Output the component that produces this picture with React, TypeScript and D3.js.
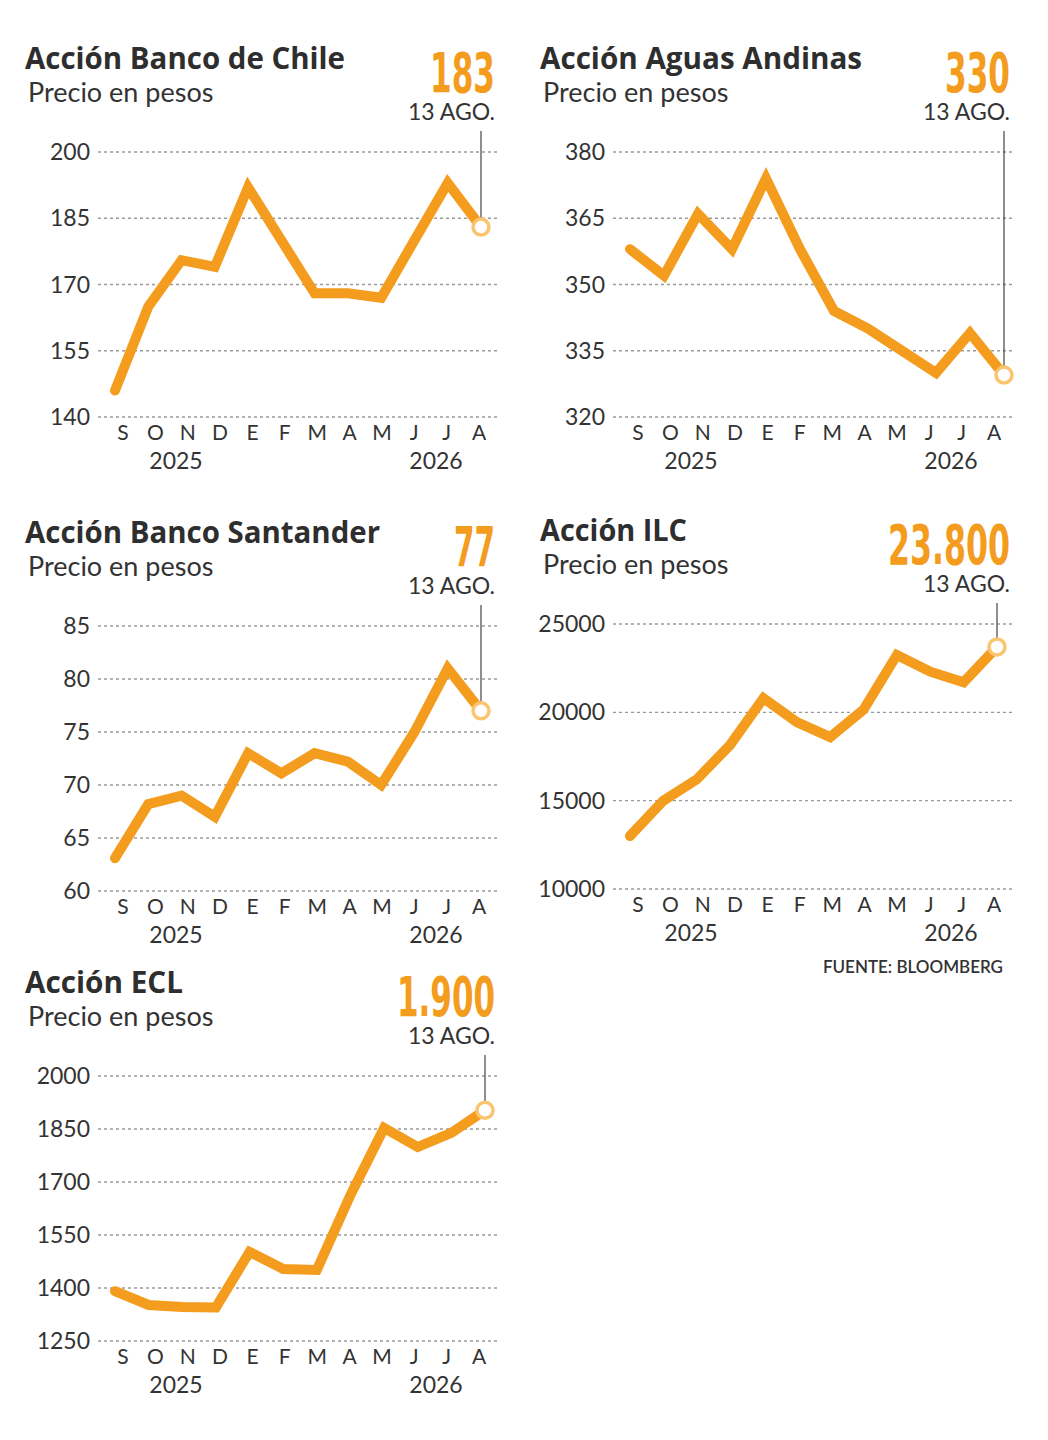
import React from 'react';
import * as d3 from 'd3';

// meses (S 2025 ... A 2026)
const months = ['S', 'O', 'N', 'D', 'E', 'F', 'M', 'A', 'M', 'J', 'J', 'A'];
const years = ['2025', '2026'];

const bancoChile = [146, 165, 175.5, 174, 192, 180, 168, 168, 167, 180, 193, 183];
const bancoChileTicks = [140, 155, 170, 185, 200];

const aguasAndinas = [358, 352, 366, 358, 374, 358, 344, 340, 335, 330, 339, 329.5];
const aguasAndinasTicks = [320, 335, 350, 365, 380];

const santander = [63.1, 68.2, 69, 67, 73, 71.1, 73, 72.2, 70, 75, 81, 77];
const santanderTicks = [60, 65, 70, 75, 80, 85];

const ilc = [13000, 15000, 16200, 18150, 20800, 19450, 18600, 20150, 23250, 22300, 21700, 23700];
const ilcTicks = [10000, 15000, 20000, 25000];

const ecl = [1391, 1352, 1346, 1345, 1502, 1454, 1451, 1663, 1853, 1799, 1839, 1903];
const eclTicks = [1250, 1400, 1550, 1700, 1850, 2000];

const ORANGE = '#F39C1E';
const RING = '#FBC46E';
const DARK = '#2e2e2e';
const TEXT = '#333';
const SANS = 'Lato, "Open Sans", sans-serif';

interface PanelProps {
  dx: number;
  dy: number;
  title: string;
  titleWidth: number;
  value: string;
  valueWidth: number;
  data: number[];
  ticks: number[];
  lastX: number;
}

const Panel: React.FC<PanelProps> = ({ dx, dy, title, titleWidth, value, valueWidth, data, ticks, lastX }) => {
  const top = 152;
  const bottom = 417;
  const gridLeft = 98;
  const gridRight = 497;

  const y = d3.scaleLinear()
    .domain([ticks[0], ticks[ticks.length - 1]])
    .range([bottom, top]);

  const x = d3.scaleLinear()
    .domain([0, months.length - 1])
    .range([115, lastX]);

  // etiquetas de meses (no alineadas exactamente con los puntos)
  const xLabel = d3.scaleLinear()
    .domain([0, months.length - 1])
    .range([123, 479]);

  const line = d3.line<number>()
    .x((_, i) => x(i))
    .y(d => y(d));

  const last = data[data.length - 1];
  const lx = x(data.length - 1);
  const ly = y(last);

  return (
    <g transform={`translate(${dx},${dy})`}>
      <text x={25} y={69} fontFamily='"Open Sans", sans-serif' fontWeight={700} fontSize={30}
        fill={DARK} textLength={titleWidth} lengthAdjust="spacingAndGlyphs">{title}</text>
      <text x={28} y={102} fontFamily={SANS} fontSize={27} fill={TEXT}>Precio en pesos</text>

      <text x={495} y={92} textAnchor="end" fontFamily='"DejaVu Sans Condensed", "DejaVu Sans", sans-serif'
        fontWeight={700} fontSize={56} fill={ORANGE} textLength={valueWidth}
        lengthAdjust="spacingAndGlyphs">{value}</text>
      <text x={495} y={120} textAnchor="end" fontFamily={SANS} fontSize={23} fill={TEXT}>13 AGO.</text>

      {ticks.map(t => (
        <g key={t}>
          <line x1={gridLeft} x2={gridRight} y1={y(t)} y2={y(t)}
            stroke="#9a9a9a" strokeWidth={1.4} strokeDasharray="3,3" />
          <text x={90} y={y(t) + 8} textAnchor="end" fontFamily={SANS} fontSize={23} fill={TEXT}>{t}</text>
        </g>
      ))}

      {months.map((m, i) => (
        <text key={i} x={xLabel(i)} y={440} textAnchor="middle" fontFamily={SANS} fontSize={21} fill={TEXT}>{m}</text>
      ))}
      <text x={176} y={469} textAnchor="middle" fontFamily={SANS} fontSize={23} fill={TEXT}>{years[0]}</text>
      <text x={436} y={469} textAnchor="middle" fontFamily={SANS} fontSize={23} fill={TEXT}>{years[1]}</text>

      <line x1={lx} x2={lx} y1={131} y2={ly - 9} stroke="#444" strokeWidth={1.2} />

      <path d={line(data) || ''} fill="none" stroke={ORANGE} strokeWidth={10}
        strokeLinejoin="miter" strokeLinecap="round" />
      <circle cx={lx} cy={ly} r={8} fill="#fff" stroke={RING} strokeWidth={3.5} />
    </g>
  );
};

const App: React.FC = () => {
  return (
    <svg width={1048} height={1440} style={{ position: 'absolute', left: 0, top: 0, background: '#fff' }}>
      <Panel dx={0} dy={0} title="Acción Banco de Chile" titleWidth={320} value="183" valueWidth={65}
        data={bancoChile} ticks={bancoChileTicks} lastX={481} />
      <Panel dx={515} dy={0} title="Acción Aguas Andinas" titleWidth={322} value="330" valueWidth={65}
        data={aguasAndinas} ticks={aguasAndinasTicks} lastX={489} />
      <Panel dx={0} dy={474} title="Acción Banco Santander" titleWidth={355} value="77" valueWidth={41}
        data={santander} ticks={santanderTicks} lastX={481} />
      <Panel dx={515} dy={472} title="Acción ILC" titleWidth={147} value="23.800" valueWidth={122}
        data={ilc} ticks={ilcTicks} lastX={482} />
      <Panel dx={0} dy={924} title="Acción ECL" titleWidth={158} value="1.900" valueWidth={98}
        data={ecl} ticks={eclTicks} lastX={485} />
      <text x={1003} y={973} textAnchor="end" fontFamily={SANS} fontWeight={600} fontSize={17} fill={TEXT}>
        FUENTE: BLOOMBERG
      </text>
    </svg>
  );
};

export default App;
